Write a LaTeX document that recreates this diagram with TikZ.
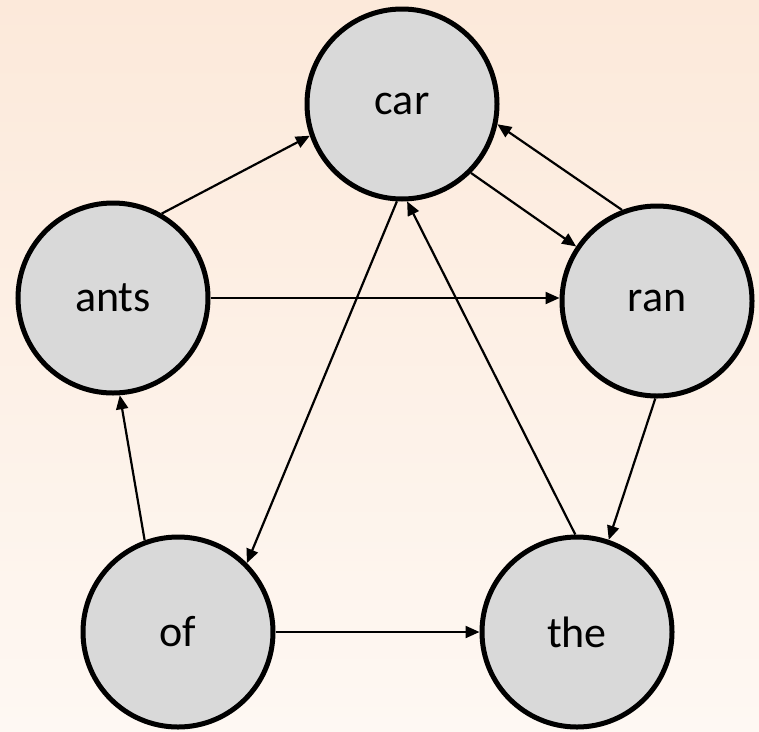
\documentclass[tikz,border=0pt]{standalone}
\usepackage{fontspec}
\setmainfont{Carlito}
\usetikzlibrary{arrows.meta}
\definecolor{bgtop}{RGB}{252,233,218}
\definecolor{bgbot}{RGB}{254,248,243}
\definecolor{nodefill}{RGB}{217,217,217}
\begin{document}
\begin{tikzpicture}[x=1pt,y=-1pt,
  word/.style={circle,draw=black,line width=5pt,fill=nodefill,minimum size=190pt,inner sep=0pt,font=\fontsize{44}{52}\selectfont},
  link/.style={line width=2.2pt,-{Triangle[length=14pt,width=12pt]}}]
\shade[top color=bgtop,bottom color=bgbot] (0,0) rectangle (759,731);
\useasboundingbox (0,0) rectangle (759,731);
\node[word] (car) at (402,104) {car};
\node[word] (ants) at (113,298) {ants};
\node[word] (ran) at (657,301) {ran};
\node[word] (of) at (178,632) {of};
\node[word] (the) at (577,632) {the};
\draw[link] (ants.60) -- (car.199);
\draw[link] (car.-45) -- (ran.146);
\draw[link] (ran.111) -- (car.-12);
\draw[link] (ants.east) -- (ants.east -| ran.west);
\draw[link] (car.-93) -- (of.45);
\draw[link] (the.91) -- (car.-87);
\draw[link] (ran.-91) -- (the.71);
\draw[link] (of.110) -- (ants.-86);
\draw[link] (of.east) -- (the.west);
\end{tikzpicture}
\end{document}
